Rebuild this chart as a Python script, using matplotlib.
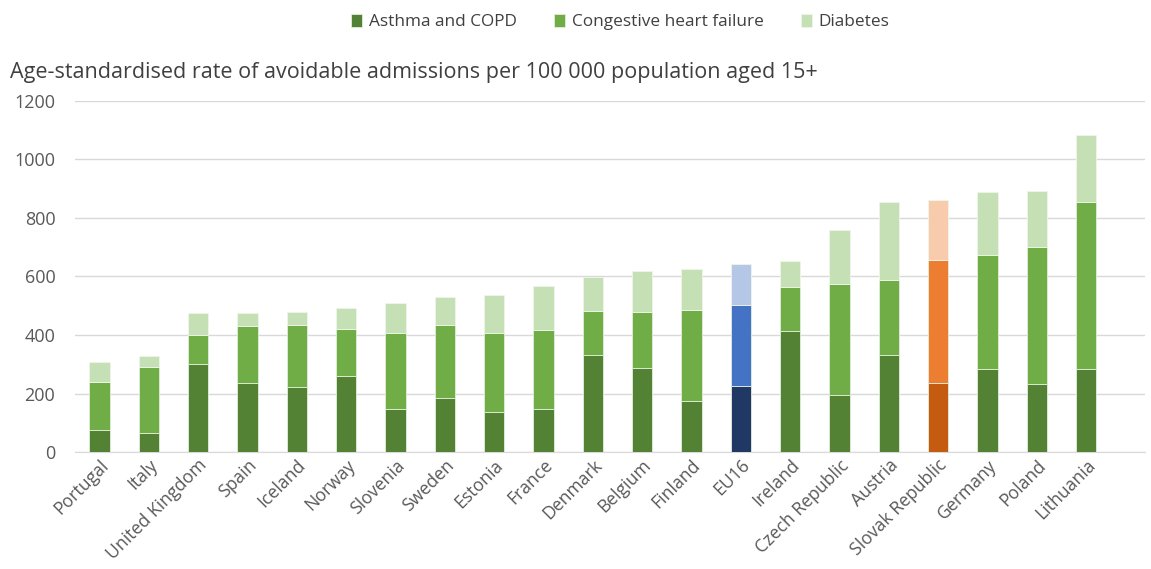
import matplotlib.pyplot as plt
import numpy as np

plt.rcParams['font.family'] = ['Open Sans', 'DejaVu Sans']

countries = ['Portugal', 'Italy', 'United Kingdom', 'Spain', 'Iceland', 'Norway',
             'Slovenia', 'Sweden', 'Estonia', 'France', 'Denmark', 'Belgium',
             'Finland', 'EU16', 'Ireland', 'Czech Republic', 'Austria',
             'Slovak Republic', 'Germany', 'Poland', 'Lithuania']

# cumulative tops, converted to segment sizes below
asthma_top = [75, 66, 301, 236, 221, 259, 148, 184, 138, 148, 333, 288,
              175, 226, 413, 196, 330, 237, 284, 234, 284]
chf_top = [240, 291, 401, 430, 434, 420, 406, 434, 406, 416, 481, 477,
           486, 504, 565, 575, 588, 658, 672, 700, 856]
diab_top = [309, 327, 475, 475, 479, 493, 508, 531, 536, 568, 598, 620,
            624, 643, 652, 759, 856, 862, 889, 893, 1082]

asthma = np.array(asthma_top)
chf = np.array(chf_top) - asthma
diab = np.array(diab_top) - np.array(chf_top)

green = ['#548235', '#70AD47', '#C5E0B4']
blue = ['#203864', '#4472C4', '#B4C7E7']
orange = ['#C55A11', '#ED7D31', '#F8CBAD']

colors = []
for c in countries:
    if c == 'EU16':
        colors.append(blue)
    elif c == 'Slovak Republic':
        colors.append(orange)
    else:
        colors.append(green)
colors = np.array(colors)

fig = plt.figure(figsize=(11.51, 5.69), dpi=100)
ax = fig.add_axes([0.065, 0.2056, 0.93, 0.617])

x = np.arange(len(countries))
w = 0.41
ax.bar(x, asthma, w, color=colors[:, 0], edgecolor='#E2EFDA', linewidth=0.6,
       label='Asthma and COPD', zorder=3)
ax.bar(x, chf, w, bottom=asthma, color=colors[:, 1], edgecolor='#E2EFDA',
       linewidth=0.6, label='Congestive heart failure', zorder=3)
ax.bar(x, diab, w, bottom=asthma + chf, color=colors[:, 2], edgecolor='#EEF6E9',
       linewidth=0.6, label='Diabetes', zorder=3)

ax.set_ylim(0, 1200)
ax.set_xlim(-0.5, 21.2)
ax.set_yticks(range(0, 1201, 200))
ax.grid(axis='y', color='#D9D9D9', linewidth=1, zorder=0)
for s in ['top', 'right', 'left']:
    ax.spines[s].set_visible(False)
ax.spines['bottom'].set_color('#D9D9D9')
ax.tick_params(axis='y', length=0, colors='#595959', labelsize=13, pad=14)
ax.tick_params(axis='x', length=0, colors='#595959', labelsize=12.7, pad=3)
ax.set_xticks(x)
ax.set_xticklabels(countries, rotation=45, ha='right', rotation_mode='anchor')

fig.text(0.009, 0.873, 'Age-standardised rate of avoidable admissions per 100 000 population aged 15+',
         fontsize=15.5, color='#404040', va='center')

fig.legend(loc='center', bbox_to_anchor=(0.539, 0.961), ncol=3, frameon=False,
           fontsize=12.4, handlelength=0.6, handleheight=0.8, handletextpad=0.4,
           columnspacing=2.2, labelcolor='#404040')

fig.savefig('out.png', dpi=100)
